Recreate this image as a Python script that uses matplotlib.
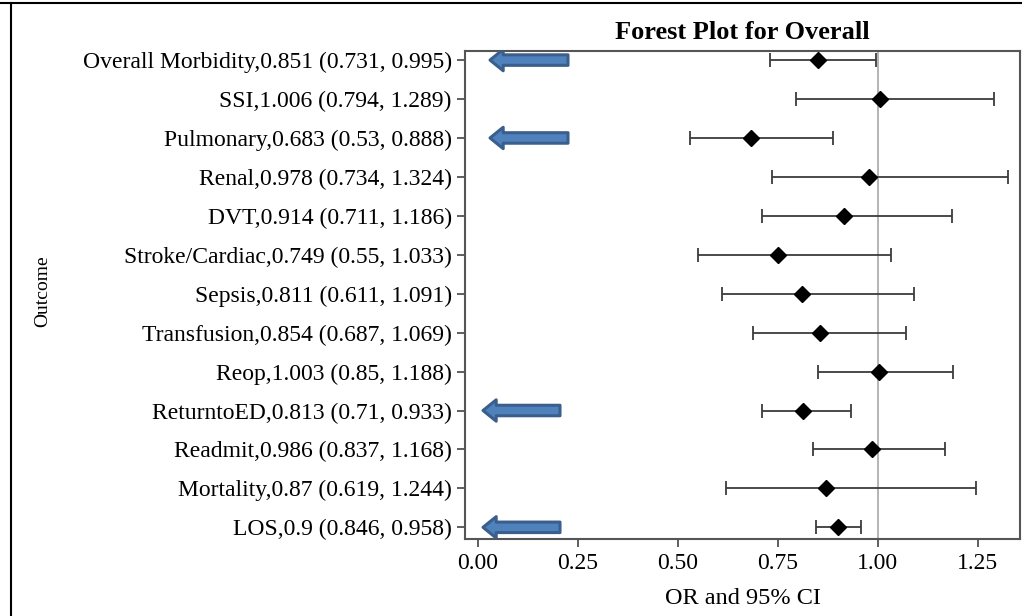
import matplotlib
matplotlib.use("Agg")
import matplotlib.pyplot as plt
from matplotlib.patches import FancyArrow
from matplotlib.lines import Line2D

outcomes = ["Overall Morbidity", "SSI", "Pulmonary", "Renal", "DVT", "Stroke/Cardiac",
            "Sepsis", "Transfusion", "Reop", "ReturntoED", "Readmit", "Mortality", "LOS"]
odds = [0.851, 1.006, 0.683, 0.978, 0.914, 0.749, 0.811, 0.854, 1.003, 0.813, 0.986, 0.87, 0.9]
lower = [0.731, 0.794, 0.53, 0.734, 0.711, 0.55, 0.611, 0.687, 0.85, 0.71, 0.837, 0.619, 0.846]
upper = [0.995, 1.289, 0.888, 1.324, 1.186, 1.033, 1.091, 1.069, 1.188, 0.933, 1.168, 1.244, 0.958]
flagged = ["Overall Morbidity", "Pulmonary", "ReturntoED", "LOS"]
xticks = [0.00, 0.25, 0.50, 0.75, 1.00, 1.25]

plt.rcParams['font.family'] = ['Liberation Serif', 'DejaVu Serif']

n = len(outcomes)
ypos = [n - 1 - i for i in range(n)]
labels = [f"{o},{r} ({l}, {u})" for o, r, l, u in zip(outcomes, odds, lower, upper)]

fig = plt.figure(figsize=(10.22, 6.16), dpi=100)
ax = fig.add_axes([0.455, 0.125, 0.543, 0.792])

ax.axvline(1.0, color="#a8a8a8", lw=1.2, zorder=1)
err_lo = [r - l for r, l in zip(odds, lower)]
err_hi = [u - r for r, u in zip(odds, upper)]
ax.errorbar(odds, ypos, xerr=[err_lo, err_hi], fmt="D", color="black",
            ecolor="#3c3c3c", elinewidth=1.3, capsize=5, capthick=1.3,
            markersize=8, zorder=3)

# blue arrows pointing at significant results
for name, y in zip(outcomes, ypos):
    if name in flagged:
        top_pair = name in ("Overall Morbidity", "Pulmonary")
        x0, x1 = (0.225, 0.03) if top_pair else (0.205, 0.0125)
        arr = FancyArrow(x0, y, x1 - x0, 0,
                         width=0.27, head_width=0.55, head_length=0.033,
                         length_includes_head=True, facecolor="#4f81bd",
                         edgecolor="#3a5f8c", lw=2.2, joinstyle="round", zorder=4)
        ax.add_patch(arr)

ax.set_xlim(-0.0325, 1.355)
ax.set_ylim(-0.3, n - 1 + 0.23)
ax.set_xticks(xticks)
ax.set_xticklabels([f"{t:.2f}" for t in xticks])
ax.set_yticks(ypos)
ax.set_yticklabels(labels)
ax.tick_params(axis="both", labelsize=17, length=6, width=1.2, color="#444444",
               direction="out")
ax.tick_params(axis="x", pad=4)
for s in ax.spines.values():
    s.set_color("#555555")
    s.set_linewidth(1.5)

ax.set_title("Forest Plot for Overall", fontsize=19, fontweight="bold", pad=9)
ax.set_xlabel("OR and 95% CI", fontsize=17.5, labelpad=10)
fig.text(0.042, 0.528, "Outcome", rotation=90, fontsize=14, ha="center", va="center")

# screenshot frame
fig.add_artist(Line2D([0, 1], [1 - 3 / 616, 1 - 3 / 616], color="black", lw=1.5))
fig.add_artist(Line2D([11 / 1022, 11 / 1022], [0, 1 - 3 / 616], color="black", lw=1.5))

fig.savefig("out.png", dpi=100)
